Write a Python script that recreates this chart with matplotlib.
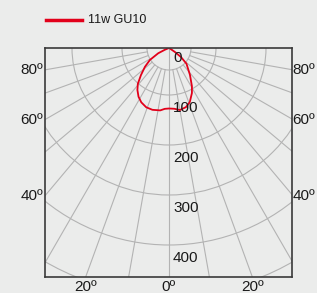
import numpy as np
import matplotlib.pyplot as plt
from matplotlib.patches import Circle

plt.rcParams['font.family'] = ['Liberation Sans', 'DejaVu Sans']

# light distribution, gamma angle (deg) vs intensity (cd)
gamma = [-72, -67, -64, -58, -52, -46, -41, -37, -32, -27, -21, -15, -8, -4,
         0, 5, 10, 16, 21, 27, 31, 38, 48, 53, 56, 62]
cd = [6, 15, 30, 51, 67, 84, 101, 111, 121, 128, 133, 134, 132, 128,
      127, 128, 132, 129, 122, 107, 95, 74, 53, 36, 20, 8]

rings = [50, 100, 200, 300, 400, 500]
ring_labels = [0, 100, 200, 300, 400]
spokes = list(range(-80, 90, 10))
side_labels = [80, 60, 40]
bottom_labels = [-20, 0, 20]
series_name = "11w GU10"

r0 = 6  # radial origin offset (cd)
bg = "#ebeceb"
grid_c = "#b3b3b3"
red = "#e2001a"


def to_xy(ang, val):
    a = np.radians(np.asarray(ang, dtype=float))
    r = np.asarray(val, dtype=float) - r0
    return r * np.sin(a), -r * np.cos(a)


fig = plt.figure(figsize=(3.17, 2.93), dpi=100, facecolor=bg)
ax = fig.add_axes([45 / 317, 16 / 293, 247 / 317, 229 / 293])
ax.set_facecolor(bg)
xmin, xmax, ymin, ymax = -248, 246, -458, 0
ax.set_xlim(xmin, xmax)
ax.set_ylim(ymin, ymax)
ax.set_aspect("equal")
ax.set_xticks([])
ax.set_yticks([])
for s in ax.spines.values():
    s.set_color("#3a3a3a")
    s.set_linewidth(1.2)

# grid rings and spokes
for v in rings:
    ax.add_patch(Circle((0, 0), v - r0, fill=False, ec=grid_c, lw=0.8))
for g in spokes:
    start = 0 if g == 0 else rings[0] - r0
    x, y = to_xy([g, g], [start + r0, 900])
    ax.plot(x, y, color=grid_c, lw=0.8)

# curve
x, y = to_xy(gamma + [gamma[0]], cd + [cd[0]])
ax.plot(x, y, color=red, lw=1.3)

# ring labels
for v in ring_labels:
    ax.text(8, -(v + 20), str(v), fontsize=11, color="#1a1a1a",
            ha="left", va="center")

# angle labels at frame edges
for g in side_labels:
    yy = -(-xmin) / np.tan(np.radians(g))
    ax.text(xmin - 4, yy, f"{g}º", fontsize=11, color="#1a1a1a",
            ha="right", va="center", clip_on=False)
    ax.text(xmax + 1, yy, f"{g}º", fontsize=11, color="#1a1a1a",
            ha="left", va="center", clip_on=False)
for g in bottom_labels:
    xx = -ymin * np.tan(np.radians(g))
    ax.text(xx, ymin - 20, f"{abs(g)}º", fontsize=11, color="#1a1a1a",
            ha="center", va="center", clip_on=False)

# legend
fig.lines.append(plt.Line2D([46 / 317, 82 / 317], [1 - 20 / 293, 1 - 20 / 293],
                            color=red, lw=2.5, transform=fig.transFigure))
fig.text(88 / 317, 1 - 20 / 293, series_name, fontsize=9, color="#1a1a1a",
         ha="left", va="center")

fig.savefig("out.png", dpi=100, facecolor=bg)
